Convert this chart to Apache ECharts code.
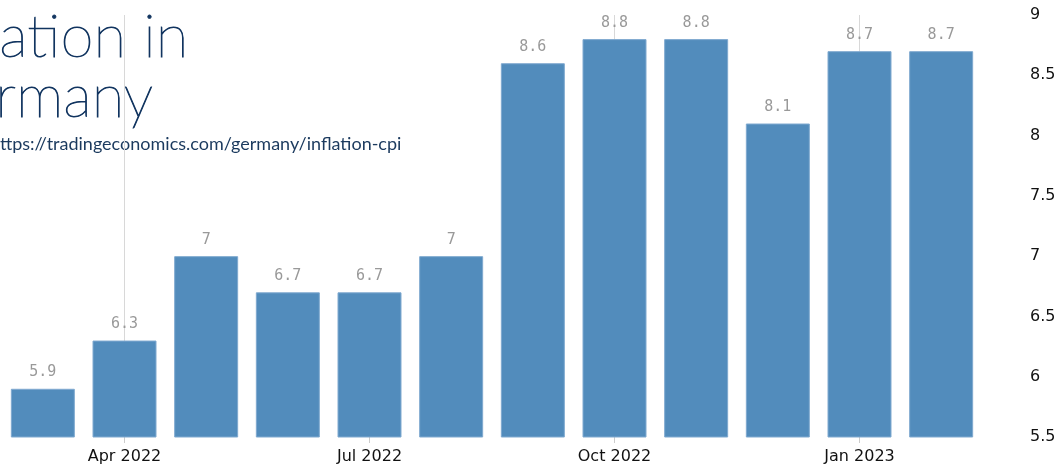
<!DOCTYPE html>
<html>
<head>
<meta charset="utf-8">
<script src="https://cdn.jsdelivr.net/npm/echarts@6/dist/echarts.min.js"></script>
<style>
  html, body { margin: 0; padding: 0; background: #fff; }
  #chart { width: 1059px; height: 465px; }
</style>
</head>
<body>
<div id="chart"></div>
<script>
// Germany inflation rate, monthly
var months = ['Mar 2022', 'Apr 2022', 'May 2022', 'Jun 2022', 'Jul 2022', 'Aug 2022',
              'Sep 2022', 'Oct 2022', 'Nov 2022', 'Dec 2022', 'Jan 2023', 'Feb 2023'];
var inflation = [5.9, 6.3, 7, 6.7, 6.7, 7, 8.6, 8.8, 8.8, 8.1, 8.7, 8.7];
var markedMonths = ['Apr 2022', 'Oct 2022', 'Jan 2023'];

var myChart = echarts.init(document.getElementById('chart'));

function everyThird(idx) {
  return idx % 3 === 1;
}

var option = {
  animation: false,
  graphic: [
    {
      type: 'text',
      left: -80,
      top: 7,
      style: {
        text: 'Inflation in\nGermany',
        font: '100 60px Lato',
        lineHeight: 60,
        fill: '#123560',
        stroke: '#123560',
        lineWidth: 0.9
      }
    },
    {
      type: 'text',
      left: -10,
      top: 135,
      style: {
        text: 'https://tradingeconomics.com/germany/inflation-cpi',
        font: '18px Lato',
        fill: '#1b3a5e'
      }
    }
  ],
  grid: {
    left: 2,
    right: 77,
    top: 15,
    bottom: 28
  },
  xAxis: {
    type: 'category',
    data: months,
    axisLine: { show: false },
    axisTick: {
      show: true,
      alignWithLabel: true,
      interval: everyThird,
      length: 6,
      lineStyle: { color: '#ccc' }
    },
    axisLabel: {
      interval: everyThird,
      color: '#111',
      fontFamily: 'DejaVu Sans',
      fontSize: 16,
      margin: 12
    }
  },
  yAxis: {
    type: 'value',
    position: 'right',
    min: 5.5,
    max: 9,
    interval: 0.5,
    splitLine: { show: false },
    axisLine: { show: false },
    axisTick: { show: false },
    axisLabel: {
      color: '#111',
      fontFamily: 'DejaVu Sans',
      fontSize: 16,
      margin: 48,
      align: 'left'
    }
  },
  series: [
    {
      type: 'bar',
      data: inflation,
      barWidth: 64,
      itemStyle: {
        color: '#528cbc',
        borderColor: '#80aad0',
        borderWidth: 1
      },
      label: {
        show: true,
        position: 'top',
        distance: 9,
        color: '#999',
        fontFamily: 'DejaVu Sans Mono',
        fontSize: 15
      },
      markLine: {
        silent: true,
        symbol: 'none',
        z: 1,
        label: { show: false },
        lineStyle: { color: '#d8d8d8', type: 'solid', width: 1 },
        data: markedMonths.map(function (m) { return { xAxis: m }; })
      }
    }
  ]
};

myChart.setOption(option);
</script>
</body>
</html>
